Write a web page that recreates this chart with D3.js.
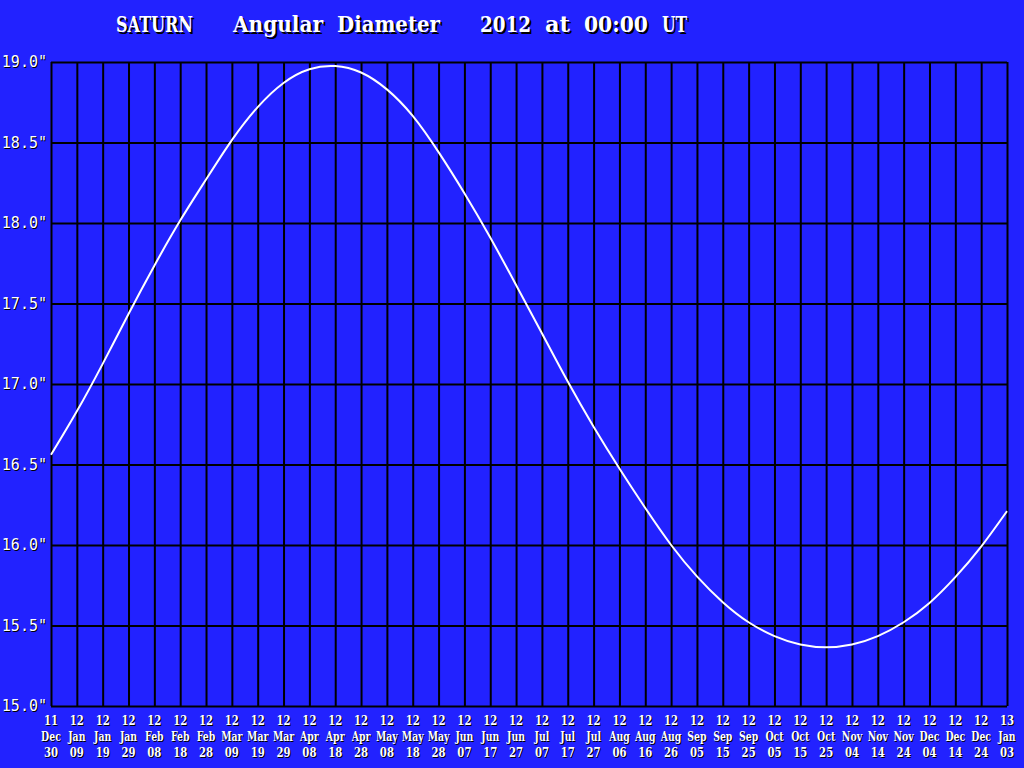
<!DOCTYPE html>
<html><head><meta charset="utf-8">
<script src="https://cdn.jsdelivr.net/npm/d3@7"></script>
<style>body{margin:0;background:#2222ff;overflow:hidden}</style>
</head><body>
<svg id="c" width="1024" height="768"></svg>
<script>
const titleText = "SATURN   Angular Diameter   2012 at 00:00 UT";
const dates = ["2011-12-30","2012-01-09","2012-01-19","2012-01-29","2012-02-08","2012-02-18","2012-02-28",
  "2012-03-09","2012-03-19","2012-03-29","2012-04-08","2012-04-18","2012-04-28","2012-05-08","2012-05-18",
  "2012-05-28","2012-06-07","2012-06-17","2012-06-27","2012-07-07","2012-07-17","2012-07-27","2012-08-06",
  "2012-08-16","2012-08-26","2012-09-05","2012-09-15","2012-09-25","2012-10-05","2012-10-15","2012-10-25",
  "2012-11-04","2012-11-14","2012-11-24","2012-12-04","2012-12-14","2012-12-24","2013-01-03"];
const diameters = [16.56,16.83,17.125,17.435,17.735,18.015,18.27,18.515,18.72,18.87,18.955,18.975,18.935,
  18.83,18.665,18.44,18.185,17.91,17.615,17.315,17.015,16.735,16.475,16.23,16.00,15.805,15.645,15.52,
  15.434,15.382,15.365,15.382,15.434,15.52,15.64,15.80,15.99,16.21];
const yTicks = [15.0,15.5,16.0,16.5,17.0,17.5,18.0,18.5,19.0];

(function(){
const svg = d3.select("#c");
const W = 1024, H = 768;
const mLeft = 51, mRight = 1007, mTop = 62, mBottom = 706;
svg.append("rect").attr("width", W).attr("height", H).attr("fill", "#2222ff");

const parse = d3.utcParse("%Y-%m-%d");
const dd = dates.map(parse);
const x = d3.scaleUtc().domain([dd[0], dd[dd.length-1]]).range([mLeft, mRight]);
const y = d3.scaleLinear().domain([15, 19]).range([mBottom, mTop]);

const gx = svg.append("g").attr("transform", `translate(0,${mBottom})`)
  .call(d3.axisBottom(x).tickValues(dd).tickSize(-(mBottom-mTop)).tickFormat(""));
gx.select(".domain").remove();
gx.selectAll(".tick line").attr("stroke", "#000").attr("stroke-width", 2);

const gy = svg.append("g").attr("transform", `translate(${mLeft},0)`)
  .call(d3.axisLeft(y).tickValues(yTicks).tickSize(-(mRight-mLeft)).tickFormat(""));
gy.select(".domain").remove();
gy.selectAll(".tick line").attr("stroke", "#000").attr("stroke-width", 2);

const line = d3.line().x((d,i)=>x(dd[i])).y(d=>y(d)).curve(d3.curveNatural);
svg.append("path").datum(diameters).attr("d", line)
  .attr("fill", "none").attr("stroke", "#fff").attr("stroke-width", 2);

function shadowText(g, px, py, txt, opts) {
  const o = Object.assign({dx:1, dy:1, anchor:"start", sx:1}, opts);
  const h = g.append("g").attr("transform", `translate(${px},${py}) scale(${o.sx},1)`);
  [["#000", o.dx, o.dy], ["#fff", 0, 0]].forEach(([c, ox, oy]) => {
    const t = h.append("text").attr("x", ox / o.sx).attr("y", oy).attr("fill", c)
      .attr("text-anchor", o.anchor).style("font-family", o.family).style("font-size", o.size+"px")
      .style("font-weight", o.weight || "normal").style("white-space", "pre").text(txt);
    if (o.len) t.attr("textLength", o.len).attr("lengthAdjust", "spacingAndGlyphs");
  });
}

const ly = svg.append("g");
yTicks.forEach(v => shadowText(ly, 47, y(v)+5, v.toFixed(1)+'"',
  {anchor:"end", family:"'DejaVu Sans Mono', monospace", size:15}));

const mon = d3.utcFormat("%b"), yr = d3.utcFormat("%y"), dy2 = d3.utcFormat("%d");
const lx = svg.append("g");
const lf = {anchor:"middle", family:"'DejaVu Serif', serif", size:13, weight:"bold"};
dd.forEach(d => {
  const cx = x(d);
  shadowText(lx, cx, 725, yr(d), Object.assign({sx:0.78}, lf));
  shadowText(lx, cx, 741, mon(d), Object.assign({sx:0.72}, lf));
  shadowText(lx, cx, 757, dy2(d), Object.assign({sx:0.78}, lf));
});

const tg = svg.append("g");
const cell = 572 / titleText.length;
let re = /\S+/g, m;
while ((m = re.exec(titleText)) !== null) {
  shadowText(tg, 116 + m.index * cell, 32, m[0],
    {family:"'DejaVu Serif', serif", size:23, weight:"bold", len: m[0].length * cell - 1, dx:2, dy:2});
}
})();
</script>
</body></html>
